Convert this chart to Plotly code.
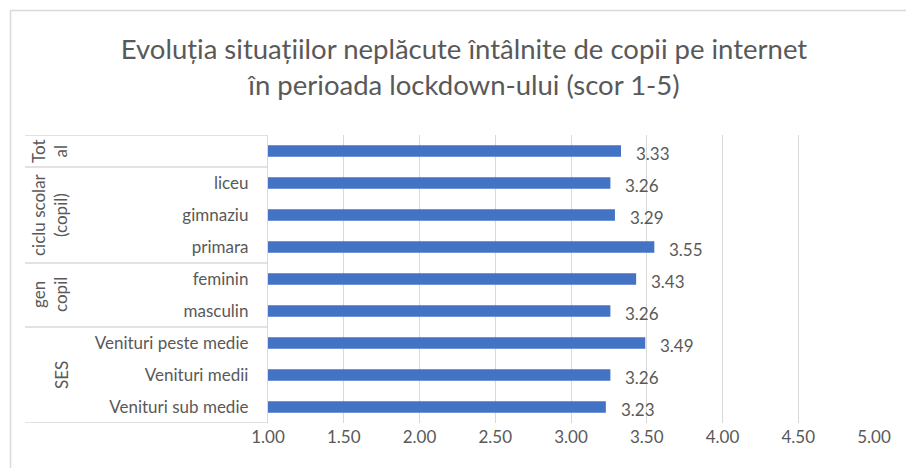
import plotly.graph_objects as go

# data (bottom to top)
categories = ["Venituri sub medie", "Venituri medii", "Venituri peste medie",
              "masculin", "feminin",
              "primara", "gimnaziu", "liceu",
              ""]
values = [3.23, 3.26, 3.49, 3.26, 3.43, 3.55, 3.29, 3.26, 3.33]
groups = ["SES", "gen<br>copil", "ciclu scolar<br>(copil)", "Tot<br>al"]
group_centers = [1, 3.5, 6, 8]
group_bounds = [-0.5, 2.5, 4.5, 7.5, 8.5]
x_ticks = [1.0, 1.5, 2.0, 2.5, 3.0, 3.5, 4.0, 4.5, 5.0]

FONT = "Lato"
GRAY = "#595959"
GRID = "#D9D9D9"
BAR = "#4472C4"
FS = 17

W, H = 906, 468
L, R, T, B = 268, 32, 135, 45
PW, PH = W - L - R, H - T - B

def px2x(px):
    return (px - L) / PW

def py2y(py):
    return (H - B - py) / PH

ypos = list(range(len(categories)))

fig = go.Figure()
fig.add_trace(go.Bar(
    x=values, y=ypos, orientation="h", width=0.36,
    marker=dict(color=BAR, line=dict(width=0)),
    hoverinfo="x+y", showlegend=False,
))

annotations = []
for yv, v in zip(ypos, values):
    annotations.append(dict(x=v, y=yv, xref="x", yref="y", text=f"{v:.2f}",
                            showarrow=False, xanchor="left", xshift=13, yshift=-2,
                            font=dict(family=FONT, size=FS, color=GRAY)))
for g, c in zip(groups, group_centers):
    xp = 61 if "<br>" not in g else 49
    annotations.append(dict(x=px2x(xp), y=c, xref="paper", yref="y", text=g,
                            showarrow=False, textangle=-90, align="center",
                            xanchor="center", yanchor="middle",
                            font=dict(family=FONT, size=FS, color=GRAY)))

shapes = []
for b in group_bounds:
    shapes.append(dict(type="line", xref="paper", yref="y",
                       x0=px2x(25), x1=0, y0=b, y1=b,
                       line=dict(color=GRID, width=1.3)))
# outer chart border (top and left visible)
shapes.append(dict(type="line", xref="paper", yref="paper",
                   x0=px2x(10.5), x1=px2x(906), y0=py2y(10.5), y1=py2y(10.5),
                   line=dict(color=GRID, width=1.5)))
shapes.append(dict(type="line", xref="paper", yref="paper",
                   x0=px2x(10.5), x1=px2x(10.5), y0=py2y(10.5), y1=py2y(468),
                   line=dict(color=GRID, width=1.5)))

fig.update_layout(
    width=W, height=H,
    margin=dict(l=L, r=R, t=T, b=B, pad=0),
    paper_bgcolor="white", plot_bgcolor="white",
    title=dict(text="Evoluția situațiilor neplăcute întâlnite de copii pe internet<br>în perioada lockdown-ului (scor 1-5)",
               x=464 / W, xref="container", xanchor="center", y=1 - 59 / H, yref="container",
               yanchor="middle",
               font=dict(family=FONT, size=27.5, color=GRAY)),
    xaxis=dict(range=[1, 5], tickvals=x_ticks, ticktext=[f"{t:.2f}" for t in x_ticks],
               showgrid=True, gridcolor=GRID, gridwidth=1.3, zeroline=False,
               showline=False, ticks="", ticklabelstandoff=2,
               tickfont=dict(family=FONT, size=FS, color=GRAY)),
    yaxis=dict(range=[-0.5, 8.5], tickvals=ypos, ticktext=categories,
               showgrid=False, zeroline=False, showline=True, linecolor=GRID, linewidth=1.3,
               ticks="", ticklabelstandoff=15,
               tickfont=dict(family=FONT, size=FS, color=GRAY)),
    annotations=annotations,
    shapes=shapes,
    bargap=0.6,
)

fig.write_html("out.html", config={"displayModeBar": False},
               post_script="document.body.style.margin='0';")
